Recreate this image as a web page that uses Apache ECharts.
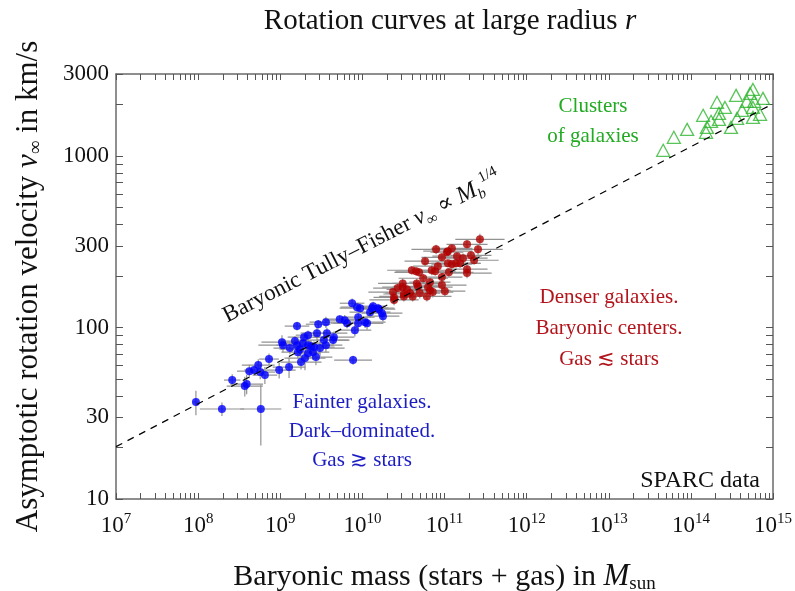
<!DOCTYPE html>
<html>
<head>
<meta charset="utf-8">
<script src="https://cdn.jsdelivr.net/npm/echarts@6/dist/echarts.min.js"></script>
<style>
  html, body { margin: 0; padding: 0; background: #fff; }
  #chart { width: 795px; height: 591px; }
</style>
</head>
<body>
<div id="chart"></div>
<script>
// SPARC galaxies with M_b <= ~2e10 (blue) : mass in M_sun, velocity in km/s, errors
const fainterMass = [
  9.4e7, 1.95e8, 5.8e8, 2.6e8, 3.7e8, 3.9e8, 4.2e8, 4.8e8, 5.4e8, 5.7e8,
  6.5e8, 7.3e8, 9.7e8, 1.28e9, 1.6e9, 1.05e9, 1.08e9, 1.51e9, 1.6e9, 1.95e9,
  2.18e9, 1.89e9, 2.18e9, 1.64e9, 2.0e9, 2.18e9, 2.5e9, 2.58e9, 2.8e9, 2.9e9,
  3.6e9, 3.7e9, 3.4e9, 3.6e9, 4.4e9, 4.5e9, 7.7e9, 5.3e9, 6.1e9, 6.5e9,
  7.5e9, 8.6e9, 9.4e9, 8.9e9, 8.9e9, 8.1e9, 1.08e10, 1.14e10, 1.31e10, 1.35e10,
  1.24e10, 1.55e10, 1.59e10, 1.73e10, 1.78e10, 1.31e9, 1.74e9, 2.37e9, 3.05e9, 2.72e9,
  1.79e9
];
const fainterVel = [
  36.8, 33.5, 33.5, 49.4, 45.6, 46.8, 55.7, 56.5, 60.4, 55.0,
  52.8, 65.5, 56.5, 58.8, 102, 82.2, 78.9, 83.4, 78.9, 87.9,
  90.3, 81.1, 78.9, 71.9, 66.4, 70.9, 71.9, 76.9, 92.7, 104.6,
  107.5, 92.7, 84.5, 78.9, 84.5, 87.9, 64.6, 112, 110.5, 106,
  138.7, 131.5, 129.7, 115, 106, 96.6, 107.5, 106, 129.7, 133.3,
  123, 129.7, 128, 121.3, 116.5, 75.9, 74.8, 77.9, 75.9, 67.3,
  62.9
];
const fainterMassErr = [ // dex
  0.03, 0.27, 0.25, 0.1, 0.22, 0.2, 0.15, 0.12, 0.2, 0.18,
  0.15, 0.12, 0.2, 0.2, 0.15, 0.25, 0.3, 0.2, 0.25, 0.2,
  0.15, 0.25, 0.3, 0.2, 0.25, 0.15, 0.2, 0.25, 0.2, 0.15,
  0.2, 0.25, 0.3, 0.2, 0.2, 0.25, 0.23, 0.2, 0.25, 0.2,
  0.15, 0.2, 0.25, 0.2, 0.3, 0.2, 0.25, 0.2, 0.2, 0.15,
  0.25, 0.2, 0.2, 0.25, 0.2, 0.2, 0.25, 0.2, 0.3, 0.2,
  0.25
];
const fainterVelErr = [ // km/s
  6, 3, 13, 4, 6, 6, 5, 4, 5, 5,
  6, 5, 6, 8, 6, 8, 7, 6, 7, 6,
  6, 7, 8, 6, 10, 6, 7, 6, 8, 6,
  8, 7, 6, 7, 6, 7, 4, 6, 8, 7,
  9, 8, 8, 7, 9, 8, 8, 9, 8, 8,
  9, 8, 8, 10, 8, 6, 7, 6, 8, 7,
  6
];

// denser galaxies (red)
const denserMass = [
  2.7e11, 1.88e11, 2.56e11, 1.23e11, 1.10e11, 1.07e11, 7.9e10, 9.3e10, 1.42e11, 2.1e11,
  2.29e11, 5.8e10, 1.10e11, 1.23e11, 1.38e11, 1.55e11, 4.0e10, 4.5e10, 4.9e10, 7.0e10,
  7.7e10, 1.13e11, 1.88e11, 1.88e11, 5.5e10, 9.3e10, 3.1e10, 3.1e10, 4.6e10, 4.75e10,
  6.65e10, 6.3e10, 6.65e10, 9.3e10, 3.5e10, 3.8e10, 4.1e10, 2.36e10, 2.43e10, 2.43e10,
  3.2e10, 3.2e10, 5.0e10, 6.1e10, 7.2e10, 8.3e10, 1.01e11, 2.7e10, 1.68e11
];
const denserVel = [
  327, 306, 286, 290, 279, 275, 286, 257, 261, 264,
  247, 244, 237, 234, 237, 237, 216, 213, 210, 216,
  213, 210, 219, 208, 194, 197, 181, 172, 181, 174,
  184, 172, 165, 177, 167, 159, 152, 161, 150, 145,
  157, 152, 159, 152, 161, 228, 163, 170, 254
];
const denserMassErr = [
  0.3, 0.25, 0.3, 0.25, 0.3, 0.2, 0.3, 0.25, 0.3, 0.25,
  0.3, 0.25, 0.3, 0.25, 0.3, 0.25, 0.3, 0.25, 0.3, 0.2,
  0.25, 0.3, 0.25, 0.3, 0.3, 0.25, 0.3, 0.25, 0.3, 0.3,
  0.25, 0.3, 0.25, 0.3, 0.25, 0.3, 0.25, 0.3, 0.25, 0.3,
  0.25, 0.3, 0.25, 0.3, 0.25, 0.3, 0.25, 0.3, 0.3
];
const denserVelErr = [
  25, 18, 20, 15, 15, 12, 18, 14, 15, 16,
  14, 15, 12, 14, 13, 14, 12, 12, 12, 14,
  12, 12, 16, 14, 12, 12, 12, 11, 12, 11,
  12, 11, 10, 12, 11, 10, 10, 12, 11, 10,
  11, 10, 11, 10, 11, 14, 11, 11, 16
];

// galaxy clusters (green triangles)
const clusterMass = [
  4.6e13, 6.2e13, 9.0e13, 1.41e14, 1.53e14, 1.57e14, 1.76e14, 2.08e14, 2.2e14, 2.2e14,
  2.6e14, 3.08e14, 3.55e14, 3.65e14, 4.2e14, 4.8e14, 5.25e14, 5.7e14, 5.9e14, 5.7e14,
  5.7e14, 6.95e14, 7.55e14
];
const clusterVel = [
  1081, 1288, 1432, 1730, 1377, 1472, 1596, 2060, 1776, 1637,
  1923, 1472, 2261, 1660, 1849, 2085, 2323, 2450, 2085, 1923,
  1683, 1753, 2173
];

// baryonic Tully-Fisher line end points
const tullyFisherMass = [1e7, 1e15];
const tullyFisherVel = [20.2, 2020];

const xLabelExponents = [7, 8, 9, 10, 11, 12, 13, 14, 15];
const yLabelValues = [10, 30, 100, 300, 1000, 3000];

const serif = "'Liberation Serif', 'DejaVu Serif', serif";
const axisColor = '#6a6a6a';
const yMax = Math.log10(3000) + 0.002;

const xTicks = [];
for (let n = 7; n < 15; n++) for (let k = 1; k < 10; k++) xTicks.push(n + Math.log10(k));
xTicks.push(15);
const yTicks = [];
for (let n = 1; n < 4; n++) for (let k = 1; k < 10; k++) {
  const v = n + Math.log10(k);
  if (v <= yMax) yTicks.push(v);
}

function pairs(mass, vel) {
  return mass.map((m, i) => [Math.log10(m), Math.log10(vel[i])]);
}
function errorBars(mass, vel, dm, dv) {
  return mass.map((m, i) => {
    const lm = Math.log10(m);
    return [lm, Math.log10(vel[i]), lm - dm[i], lm + dm[i],
      Math.log10(vel[i] - dv[i]), Math.log10(vel[i] + dv[i])];
  });
}
function renderErrorBar(params, api) {
  const x = api.value(0), y = api.value(1);
  const l = api.coord([api.value(2), y]);
  const r = api.coord([api.value(3), y]);
  const b = api.coord([x, api.value(4)]);
  const t = api.coord([x, api.value(5)]);
  const style = { stroke: '#929292', lineWidth: 1.2 };
  return {
    type: 'group',
    children: [
      { type: 'line', shape: { x1: l[0], y1: l[1], x2: r[0], y2: r[1] }, style },
      { type: 'line', shape: { x1: b[0], y1: b[1], x2: t[0], y2: t[1] }, style }
    ]
  };
}

function frameAxis(extra) {
  return Object.assign({
    type: 'value',
    axisLine: { show: true, onZero: false, lineStyle: { color: axisColor, width: 1.5 } },
    axisTick: { show: true, inside: true, length: 6, lineStyle: { color: '#555', width: 1 } },
    axisLabel: { show: false },
    splitLine: { show: false }
  }, extra);
}

const chart = echarts.init(document.getElementById('chart'), null, { renderer: 'canvas' });

chart.setOption({
  animation: false,
  backgroundColor: '#ffffff',
  title: {
    text: 'Rotation curves at large radius {i|r}',
    left: 445,
    textAlign: 'center',
    top: 2,
    textStyle: {
      fontFamily: serif, fontSize: 29, fontWeight: 'normal', color: '#111',
      rich: { i: { fontFamily: serif, fontSize: 29, fontStyle: 'italic', color: '#111' } }
    }
  },
  grid: { left: 116, right: 22, top: 74, bottom: 92, outerBoundsMode: 'none', containLabel: false },
  xAxis: [
    frameAxis({
      min: 7, max: 15, position: 'bottom',
      axisTick: { show: true, inside: true, length: 6, customValues: xTicks, lineStyle: { color: '#555', width: 1 } },
      axisLabel: {
        show: true, margin: 13, customValues: xLabelExponents,
        formatter: v => '{b|10}{s|' + Math.round(v) + '}',
        rich: {
          b: { fontFamily: serif, fontSize: 23, color: '#111', lineHeight: 28 },
          s: { fontFamily: serif, fontSize: 15, color: '#111', verticalAlign: 'top', lineHeight: 15 }
        }
      },
      name: 'Baryonic mass (stars + gas) in {m|M}{sub|sun}',
      nameLocation: 'middle',
      nameGap: 61,
      nameTextStyle: {
        fontFamily: serif, fontSize: 30, color: '#111', lineHeight: 34,
        rich: {
          m: { fontFamily: serif, fontSize: 31, fontStyle: 'italic', color: '#111', lineHeight: 34 },
          sub: { fontFamily: serif, fontSize: 19, color: '#111', verticalAlign: 'bottom', lineHeight: 19 }
        }
      }
    }),
    frameAxis({
      min: 7, max: 15, position: 'top',
      axisTick: { show: true, inside: true, length: 6, customValues: xTicks, lineStyle: { color: '#555', width: 1 } }
    })
  ],
  yAxis: [
    frameAxis({
      min: 1, max: yMax, position: 'left',
      axisTick: { show: true, inside: true, length: 7, customValues: yTicks, lineStyle: { color: '#555', width: 1 } },
      axisLabel: {
        show: true, margin: 7, customValues: yLabelValues.map(v => Math.log10(v)),
        formatter: v => String(Math.round(Math.pow(10, v))),
        fontFamily: serif, fontSize: 23, color: '#111'
      },
      name: 'Asymptotic rotation velocity {i|v}{sub|∞} in km/s',
      nameLocation: 'middle',
      nameGap: 70,
      nameRotate: 90,
      nameTextStyle: {
        fontFamily: serif, fontSize: 31, color: '#111', lineHeight: 34,
        rich: {
          i: { fontFamily: serif, fontSize: 31, fontStyle: 'italic', color: '#111', lineHeight: 34 },
          sub: { fontFamily: serif, fontSize: 19, color: '#111', verticalAlign: 'bottom', lineHeight: 19 }
        }
      }
    }),
    frameAxis({
      min: 1, max: yMax, position: 'right',
      axisTick: { show: true, inside: true, length: 7, customValues: yTicks, lineStyle: { color: '#555', width: 1 } }
    })
  ],
  series: [
    {
      type: 'custom', name: 'fainter errors', renderItem: renderErrorBar,
      data: errorBars(fainterMass, fainterVel, fainterMassErr, fainterVelErr),
      encode: { x: [0, 2, 3], y: [1, 4, 5] }, z: 1, silent: true, clip: true
    },
    {
      type: 'custom', name: 'denser errors', renderItem: renderErrorBar,
      data: errorBars(denserMass, denserVel, denserMassErr, denserVelErr),
      encode: { x: [0, 2, 3], y: [1, 4, 5] }, z: 1, silent: true, clip: true
    },
    {
      type: 'scatter', name: 'Fainter galaxies', data: pairs(fainterMass, fainterVel),
      symbol: 'circle', symbolSize: 8, itemStyle: { color: '#0000ff' }, z: 3
    },
    {
      type: 'scatter', name: 'Denser galaxies', data: pairs(denserMass, denserVel),
      symbol: 'circle', symbolSize: 8, itemStyle: { color: '#b00000' }, z: 3
    },
    {
      type: 'scatter', name: 'Clusters', data: pairs(clusterMass, clusterVel),
      symbol: 'triangle', symbolSize: [13, 12],
      itemStyle: { color: 'rgba(0,0,0,0)', borderColor: '#2fb52f', borderWidth: 1.3 }, z: 3
    },
    {
      type: 'line', name: 'Tully-Fisher', data: pairs(tullyFisherMass, tullyFisherVel),
      symbol: 'none', lineStyle: { color: '#000', width: 1.2, type: [7, 6] }, z: 4, silent: true
    }
  ],
  graphic: [
    {
      type: 'text', x: 362, y: 247, rotation: 27 * Math.PI / 180,
      style: {
        text: 'Baryonic Tully–Fisher {i|v}{sub|∞} ∝ {m|M}{sub|b}{sup|1/4}',
        fontFamily: serif, fontSize: 23, fill: '#111', align: 'center', verticalAlign: 'middle',
        rich: {
          i: { fontFamily: serif, fontSize: 23, fontStyle: 'italic', fill: '#111', lineHeight: 30 },
          m: { fontFamily: serif, fontSize: 24, fontStyle: 'italic', fill: '#111', lineHeight: 30 },
          sub: { fontFamily: serif, fontSize: 15, fontStyle: 'italic', fill: '#111', verticalAlign: 'bottom', lineHeight: 15 },
          sup: { fontFamily: serif, fontSize: 15, fill: '#111', verticalAlign: 'top', lineHeight: 15 }
        }
      }
    },
    {
      type: 'text', x: 593, y: 121,
      style: { text: 'Clusters\nof galaxies', fontFamily: serif, fontSize: 21, lineHeight: 30,
        fill: '#22aa22', align: 'center', verticalAlign: 'middle' }
    },
    {
      type: 'text', x: 609, y: 328,
      style: { text: 'Denser galaxies.\nBaryonic centers.\nGas ≲ stars', fontFamily: serif, fontSize: 21, lineHeight: 31,
        fill: '#b3141c', align: 'center', verticalAlign: 'middle' }
    },
    {
      type: 'text', x: 362, y: 431,
      style: { text: 'Fainter galaxies.\nDark–dominated.\nGas ≳ stars', fontFamily: serif, fontSize: 21, lineHeight: 29,
        fill: '#1c1cc4', align: 'center', verticalAlign: 'middle' }
    },
    {
      type: 'text', x: 760, y: 481,
      style: { text: 'SPARC data', fontFamily: serif, fontSize: 24, fill: '#111', align: 'right', verticalAlign: 'middle' }
    }
  ]
});
</script>
</body>
</html>
